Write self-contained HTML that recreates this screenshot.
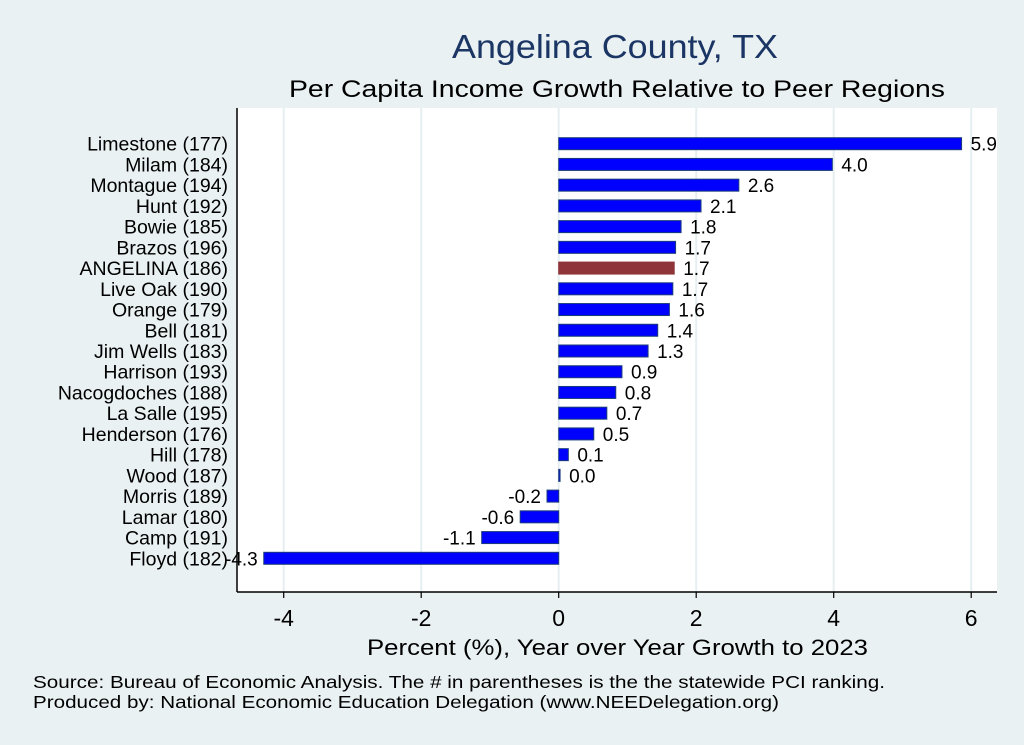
<!DOCTYPE html>
<html><head><meta charset="utf-8"><style>
body{margin:0;background:#eaf1f3;}
svg{display:block;font-family:"Liberation Sans",Arial,sans-serif;}
</style></head><body>
<svg id="c" width="1024" height="745">
<rect x="0" y="0" width="1024" height="745" fill="#eaf1f3"/>
<rect x="237" y="108" width="760" height="484" fill="#ffffff"/>
<text x="452" y="58" font-size="33" fill="#1b3665" textLength="326" lengthAdjust="spacingAndGlyphs">Angelina County, TX</text>
<text x="289" y="97" font-size="24" fill="#000" textLength="656" lengthAdjust="spacingAndGlyphs">Per Capita Income Growth Relative to Peer Regions</text>
<g id="grid"></g><g id="bars"></g><g id="axes"></g>
<text x="367" y="655" font-size="22" fill="#000" textLength="501" lengthAdjust="spacingAndGlyphs">Percent (%), Year over Year Growth to 2023</text>
<text x="33" y="688" font-size="17.5" fill="#000" textLength="852" lengthAdjust="spacingAndGlyphs">Source: Bureau of Economic Analysis. The # in parentheses is the the statewide PCI ranking.</text>
<text x="33" y="708" font-size="17.5" fill="#000" textLength="746" lengthAdjust="spacingAndGlyphs">Produced by: National Economic Education Delegation (www.NEEDelegation.org)</text>
</svg>
<script>
const categories=["Limestone (177)","Milam (184)","Montague (194)","Hunt (192)","Bowie (185)","Brazos (196)","ANGELINA (186)","Live Oak (190)","Orange (179)","Bell (181)","Jim Wells (183)","Harrison (193)","Nacogdoches (188)","La Salle (195)","Henderson (176)","Hill (178)","Wood (187)","Morris (189)","Lamar (180)","Camp (191)","Floyd (182)"];
const values=[5.86,3.98,2.62,2.07,1.78,1.70,1.68,1.66,1.61,1.44,1.30,0.92,0.83,0.70,0.51,0.14,0.02,-0.17,-0.56,-1.12,-4.29];
const labels=["5.9","4.0","2.6","2.1","1.8","1.7","1.7","1.7","1.6","1.4","1.3","0.9","0.8","0.7","0.5","0.1","0.0","-0.2","-0.6","-1.1","-4.3"];
const highlight="ANGELINA (186)";
const ticks=[-4,-2,0,2,4,6];
const NS="http://www.w3.org/2000/svg";
const x=v=>558.7+v*68.75;
const y=i=>143.7+i*20.73;
function mk(t,a,p){const e=document.createElementNS(NS,t);for(const k in a)e.setAttribute(k,a[k]);p.appendChild(e);return e;}
const g=document.getElementById('grid'),b=document.getElementById('bars'),ax=document.getElementById('axes');
ticks.forEach(t=>{
 const l=mk('line',{x1:x(t),x2:x(t),y1:108,y2:592,stroke:'#e6eef1','stroke-width':2},g);
 
 
 const tk=mk('line',{x1:x(t),x2:x(t),y1:592,y2:598,stroke:'#000','stroke-width':1.2},ax);
 
 
 const tx=mk('text',{x:x(t),y:626,'font-size':23,'text-anchor':'middle'},ax);
 tx.textContent=t;
 
 
});
categories.forEach((c,i)=>{
 const v=values[i],x0=Math.min(x(0),x(v)),w=Math.max(Math.abs(x(v)-x(0)),1);
 const r=mk('rect',{x:x0,y:y(i)-6,width:w,height:12,fill:c===highlight?'#8f3439':'#0000ff',stroke:c===highlight?'#8f3439':'#1a3d7a','stroke-width':1},b);
 
 
 const vl=mk('text',{x:v>=0?x(v)+9:x(v)-6,y:y(i)+7,'font-size':19,'text-anchor':v>=0?'start':'end'},b);
 vl.textContent=labels[i];
 
 
 const cl=mk('text',{x:228,y:y(i)+7,'font-size':19.5,'text-anchor':'end'},ax);
 cl.textContent=c;
 
 
});
const yl=mk('line',{x1:237,x2:237,y1:108,y2:592,stroke:'#000','stroke-width':1.5},ax);


const xl=mk('line',{x1:237,x2:997,y1:592,y2:592,stroke:'#000','stroke-width':1.5},ax);


</script>
</body></html>
